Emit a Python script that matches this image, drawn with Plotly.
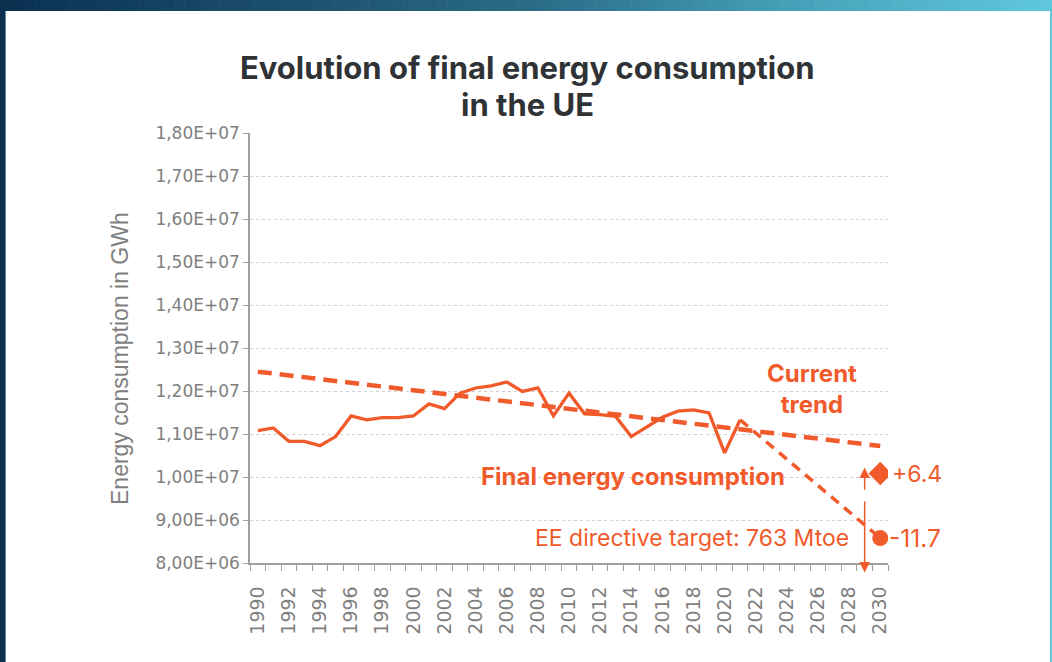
import plotly.graph_objects as go

# ---------------- data ----------------
years = list(range(1990, 2022))
final_consumption = [
    1.108e7, 1.114e7, 1.083e7, 1.083e7, 1.073e7, 1.094e7, 1.142e7, 1.133e7,
    1.138e7, 1.138e7, 1.142e7, 1.170e7, 1.159e7, 1.195e7, 1.207e7, 1.212e7,
    1.221e7, 1.199e7, 1.207e7, 1.142e7, 1.195e7, 1.147e7, 1.145e7, 1.141e7,
    1.094e7, 1.116e7, 1.139e7, 1.153e7, 1.156e7, 1.149e7, 1.056e7, 1.133e7,
]
trend_years = [1990, 2030]
trend_values = [1.245e7, 1.072e7]
target_years = [2021, 2030]
target_values = [1.133e7, 8.58e6]
target_point = (2030, 8.58e6)
scenario_point = (2030, 1.008e7)
arrow_up = (2029, 9.67e6, 1.022e7)     # x, tail, head
arrow_down = (2029, 9.47e6, 7.78e6)
y_ticks = [8e6, 9e6, 1e7, 1.1e7, 1.2e7, 1.3e7, 1.4e7, 1.5e7, 1.6e7, 1.7e7, 1.8e7]
y_ticktext = ["8,00E+06", "9,00E+06", "1,00E+07", "1,10E+07", "1,20E+07", "1,30E+07",
              "1,40E+07", "1,50E+07", "1,60E+07", "1,70E+07", "1,80E+07"]
x_ticks = list(range(1990, 2031, 2))
title_lines = ["Evolution of final energy consumption", "in the UE"]

ORANGE = "#F15A2B"
GREY = "#7f7f7f"
W, H = 1052, 662
ML, MR, MT, MB = 250, 164, 133, 99

fig = go.Figure()

fig.add_trace(go.Scatter(x=trend_years, y=trend_values, mode="lines",
                         line=dict(color=ORANGE, width=4.5, dash="14px,8px"),
                         hoverinfo="skip"))
fig.add_trace(go.Scatter(x=target_years, y=target_values, mode="lines",
                         line=dict(color=ORANGE, width=3.5, dash="10px,7px"),
                         hoverinfo="skip"))
fig.add_trace(go.Scatter(x=years, y=final_consumption, mode="lines",
                         line=dict(color=ORANGE, width=3.3)))
fig.add_trace(go.Scatter(x=[scenario_point[0]], y=[scenario_point[1]], mode="markers",
                         marker=dict(symbol="diamond", size=18, color=ORANGE)))
fig.add_trace(go.Scatter(x=[target_point[0]], y=[target_point[1]], mode="markers",
                         marker=dict(symbol="circle", size=16, color=ORANGE)))

# frame helpers (pixel -> paper)
pw, ph = W - ML - MR, H - MT - MB
def px(x): return (x - ML) / pw
def py(y): return 1 - (y - MT) / ph

ann = []
for (xa, tail, head) in (arrow_up, arrow_down):
    ann.append(dict(x=xa, y=head, ax=xa, ay=tail, xref="x", yref="y", axref="x", ayref="y",
                    text="", showarrow=True, arrowhead=2, arrowsize=1.4, arrowwidth=1.5,
                    arrowcolor=ORANGE, standoff=0, startstandoff=0))

TXT = "Inter"
ann += [
    dict(x=2025.6, y=1.205e7, xref="x", yref="y", text="<b>Current<br>trend</b>",
         showarrow=False, font=dict(family=TXT, size=24, color=ORANGE), align="center"),
    dict(x=2014.1, y=1.001e7, xref="x", yref="y", text="<b>Final energy consumption</b>",
         showarrow=False, font=dict(family=TXT, size=24, color=ORANGE)),
    dict(x=2028.1, y=8.59e6, xref="x", yref="y", text="EE directive target: 763 Mtoe",
         showarrow=False, xanchor="right", font=dict(family=TXT, size=23, color=ORANGE)),
    dict(x=scenario_point[0], y=scenario_point[1], xref="x", yref="y", text="+6.4",
         showarrow=False, xanchor="left", xshift=10, font=dict(family=TXT, size=23, color=ORANGE)),
    dict(x=target_point[0], y=target_point[1], xref="x", yref="y", text="-11.7",
         showarrow=False, xanchor="left", xshift=7, font=dict(family=TXT, size=24.5, color=ORANGE)),
    dict(x=px(120), y=py(359), xref="paper", yref="paper", text="Energy consumption in GWh",
         textangle=-90, showarrow=False, xanchor="center", yanchor="middle",
         font=dict(family="Liberation Sans", size=23, color=GREY)),
    dict(x=px(527), y=py(68), xref="paper", yref="paper", text="<b>%s</b>" % title_lines[0],
         showarrow=False, xanchor="center", yanchor="middle",
         font=dict(family="Inter", size=31, color="#303336")),
    dict(x=px(527), y=py(105), xref="paper", yref="paper", text="<b>%s</b>" % title_lines[1],
         showarrow=False, xanchor="center", yanchor="middle",
         font=dict(family="Inter", size=31, color="#303336")),
]

stops = [(0.0, (10, 48, 80)), (0.5, (42, 106, 133)), (0.75, (69, 160, 184)), (1.0, (95, 200, 221))]
def col(t):
    for (t0, c0), (t1, c1) in zip(stops[:-1], stops[1:]):
        if t <= t1:
            f = (t - t0) / (t1 - t0)
            return "rgb(%d,%d,%d)" % tuple(round(a + (b - a) * f) for a, b in zip(c0, c1))
    return "rgb(%d,%d,%d)" % stops[-1][1]

shapes = []
N = 120
for i in range(N):
    x0 = W * i / N
    x1 = W * (i + 1) / N + 0.6
    shapes.append(dict(type="rect", xref="paper", yref="paper", x0=px(x0), x1=px(x1),
                       y0=py(11), y1=py(0), fillcolor=col((i + 0.5) / N), line=dict(width=0),
                       layer="above"))
shapes.append(dict(type="rect", xref="paper", yref="paper", x0=px(0), x1=px(5), y0=py(H), y1=py(0),
                   fillcolor="rgb(10,48,80)", line=dict(width=0), layer="above"))
shapes.append(dict(type="rect", xref="paper", yref="paper", x0=px(5), x1=px(6), y0=py(H), y1=py(11),
                   fillcolor="rgb(90,138,168)", line=dict(width=0), layer="above"))
shapes.append(dict(type="rect", xref="paper", yref="paper", x0=px(1050), x1=px(W), y0=py(H), y1=py(11),
                   fillcolor="rgb(95,200,221)", line=dict(width=0), layer="above"))

fig.update_layout(
    width=W, height=H,
    margin=dict(l=ML, r=MR, t=MT, b=MB),
    paper_bgcolor="white", plot_bgcolor="white",
    showlegend=False,
    xaxis=dict(range=[1989.5, 2030.5], tickmode="array", tickvals=x_ticks,
               ticktext=[str(v) for v in x_ticks], tickangle=-90, ticks="", showgrid=False,
               showline=True, linecolor="#a0a0a0", linewidth=1.5, zeroline=False,
               ticklabelstandoff=14,
               tickfont=dict(family="DejaVu Sans", size=19, color=GREY),
               minor=dict(tickmode="linear", tick0=1989.5, dtick=1, ticks="outside",
                          ticklen=6, tickcolor="#a0a0a0", tickwidth=1.2, showgrid=False)),
    yaxis=dict(range=[8e6, 1.8e7], tickmode="array", tickvals=y_ticks, ticktext=y_ticktext,
               ticks="outside", ticklen=5, tickcolor="#a0a0a0", showline=True,
               linecolor="#a0a0a0", linewidth=1.5, zeroline=False,
               showgrid=True, gridcolor="#cfcfcf", griddash="dot", gridwidth=1,
               tickfont=dict(family="DejaVu Sans", size=17, color=GREY)),
    annotations=ann,
    shapes=shapes,
)

fig.write_html("out.html", config={"displayModeBar": False},
               post_script="document.body.style.margin='0px';document.body.style.padding='0px';")
